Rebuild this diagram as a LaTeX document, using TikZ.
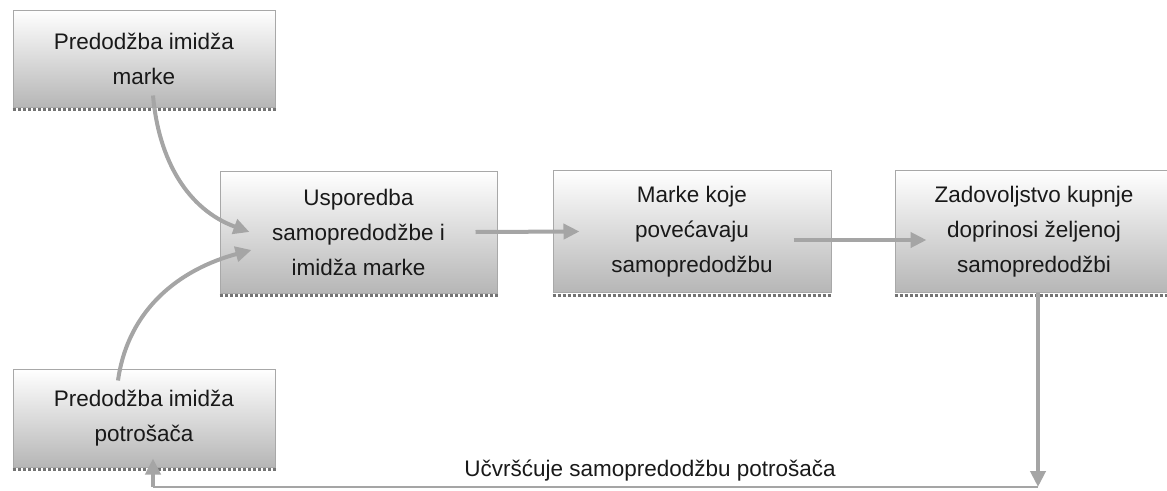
\documentclass[tikz,border=0pt]{standalone}
\usepackage{fontspec}
\setmainfont{Liberation Sans}
\usetikzlibrary{arrows.meta}
\definecolor{sivastrelica}{HTML}{A5A5A5}
\definecolor{sivarub}{HTML}{A8A8A8}
\definecolor{sivadno}{HTML}{B6B6B6}
\tikzset{
  okvir/.style={draw=sivarub, line width=1pt, top color=white, bottom color=sivadno,
    minimum width=278pt, minimum height=122pt, inner sep=0pt, align=center,
    font=\fontsize{22.5}{35}\selectfont, text=black!90},
  strelica/.style={draw=sivastrelica, line width=4pt, -{Triangle[length=16pt,width=15pt]}},
  sjena/.style={dotted, line width=3pt, black!55}
}
\begin{document}
\begin{tikzpicture}[x=1pt,y=-1pt]
\useasboundingbox (0,0) rectangle (1167,490);
\node[okvir, minimum width=262pt, minimum height=97pt] (slika) at (144,58.5) {Predodžba imidža\\marke};
\node[okvir, minimum width=277pt] (usp) at (358.5,232) {Usporedba\\samopredodžbe i\\imidža marke};
\node[okvir] (marke) at (692,231.5) {Marke koje\\povećavaju\\samopredodžbu};
\node[okvir] (zad) at (1034,231.5) {Zadovoljstvo kupnje\\doprinosi željenoj\\samopredodžbi};
\node[okvir, minimum width=262pt, minimum height=98pt] (potr) at (144,418) {Predodžba imidža\\potrošača};
% sjene ispod okvira
\foreach \n in {slika,usp,marke,zad,potr}
  \draw[sjena] ([yshift=-2pt]\n.south west) -- ([yshift=-2pt]\n.south east);
\coordinate (kraj) at (1038,487);
\coordinate (poc) at (153,487);
\draw[strelica] ([xshift=9pt,yshift=12pt]slika.south) to[out=-85,in=160] ([xshift=30pt]usp.west);
\draw[strelica] ([xshift=-26pt,yshift=-12pt]potr.north) to[out=82,in=195] ([xshift=32pt,yshift=-18pt]usp.west);
\draw[strelica] ([xshift=-22pt]usp.east) -- ([xshift=27pt]marke.west);
\draw[strelica] ([xshift=-38pt,yshift=-8.5pt]marke.east) -- ([xshift=32pt,yshift=-8.5pt]zad.west);
\draw[strelica] ([xshift=4pt]zad.south) -- (kraj);
\draw[sivastrelica, line width=1.5pt] (kraj) -- (poc);
\draw[strelica] (poc) -- ([xshift=9pt,yshift=9pt]potr.south);
\node[font=\fontsize{22.5}{26}\selectfont, text=black!90] (natpis) at (650,471) {Učvršćuje samopredodžbu potrošača};
\end{tikzpicture}
\end{document}
